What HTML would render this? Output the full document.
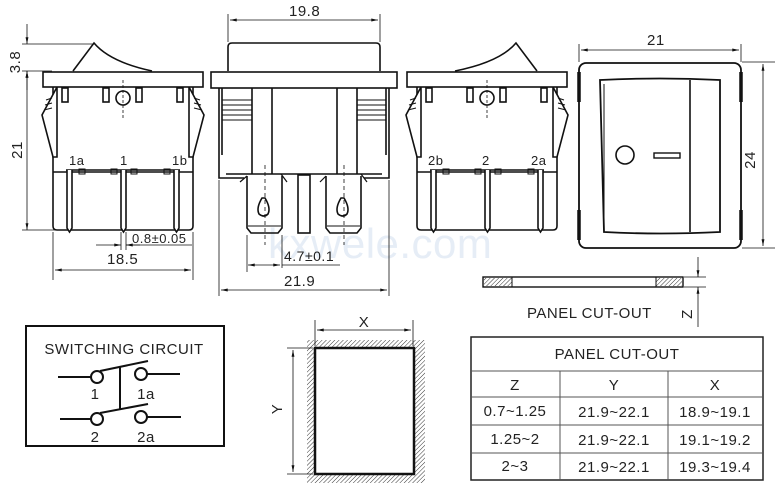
<!DOCTYPE html>
<html><head><meta charset="utf-8"><style>
html,body{margin:0;padding:0;background:#fff;width:784px;height:487px;overflow:hidden}
svg{display:block}
text{font-family:"Liberation Sans",sans-serif;fill:#222;letter-spacing:0.5px}
</style></head><body>
<svg width="784" height="487" viewBox="0 0 784 487" xmlns="http://www.w3.org/2000/svg">
<defs>
<marker id="a" viewBox="0 0 14 10" refX="14" refY="5" markerWidth="12" markerHeight="6" orient="auto-start-reverse"><path d="M0,2 L14,5 L0,8 z" fill="#111"/></marker>
<pattern id="h" width="3" height="3" patternUnits="userSpaceOnUse" patternTransform="rotate(45)"><line x1="0" y1="0" x2="0" y2="3" stroke="#333" stroke-width="1"/></pattern>
<g id="side" fill="none" stroke="#111" stroke-width="1.6">
<rect x="43" y="72" width="160" height="15" fill="#fff"/>
<path d="M53,87 V226 q0,4 4,4 H189 q4,0 4,-4 V87"/>
<path d="M57,87 L42,115 L53,157 L57,157 Z M189,87 L204,115 L193,157 L189,157 Z" fill="#fff"/>
<path d="M46,100 l6,-2 M45,105 l7,-2 M44,110 l8,-2 M200,100 l-6,-2 M201,105 l-7,-2 M202,110 l-8,-2" stroke-width="1"/>
<rect x="62" y="88" width="6" height="14"/><rect x="103" y="88" width="6" height="14"/><rect x="136" y="88" width="6" height="14"/><rect x="177" y="88" width="6" height="14"/>
<circle cx="123" cy="98" r="7"/>
<line x1="123" y1="80" x2="123" y2="118" stroke-dasharray="3,2" stroke-width="0.8"/>
<line x1="53" y1="172" x2="193" y2="172"/>
<line x1="66" y1="170" x2="180" y2="170"/>
<rect x="79" y="169" width="6" height="5" stroke-width="1"/><rect x="111" y="169" width="6" height="5" stroke-width="1"/><rect x="131" y="169" width="6" height="5" stroke-width="1"/><rect x="164" y="169" width="6" height="5" stroke-width="1"/>
<path d="M67,170 V228 L69.5,232 L72,228 V170 M121,170 V228 L123.5,232 L126,228 V170 M174,170 V228 L176.5,232 L179,228 V170" fill="#fff"/>
</g>
</defs>

<text x="268" y="258" font-size="42" style="fill:#e6edf6">kxwele.com</text>

<!-- LEFT VIEW -->
<use href="#side"/>
<path d="M73,71 L94,43 Q110,62 152,71" fill="none" stroke="#111" stroke-width="1.6"/>
<text x="69" y="165" font-size="13">1a</text><text x="120" y="165" font-size="13">1</text><text x="172" y="165" font-size="13">1b</text>
<g stroke="#111" stroke-width="0.8" fill="none">
<line x1="22" y1="44" x2="95" y2="44"/><line x1="22" y1="71" x2="52" y2="71"/><line x1="22" y1="230" x2="62" y2="230"/>
<line x1="27" y1="24" x2="27" y2="44" marker-end="url(#a)"/><line x1="27" y1="90" x2="27" y2="71" marker-end="url(#a)"/>
<line x1="27" y1="71" x2="27" y2="230" marker-start="url(#a)" marker-end="url(#a)"/>
<line x1="53" y1="232" x2="53" y2="280"/><line x1="193" y1="232" x2="193" y2="280"/>
<line x1="55" y1="270" x2="191" y2="270" marker-start="url(#a)" marker-end="url(#a)"/>
<line x1="121" y1="232" x2="121" y2="250"/><line x1="126" y1="232" x2="126" y2="250"/>
<line x1="96" y1="245" x2="121" y2="245" marker-end="url(#a)"/><line x1="140" y1="245" x2="126" y2="245" marker-end="url(#a)"/>
<line x1="126" y1="245" x2="192" y2="245"/>
</g>
<text x="132" y="243" font-size="13">0.8±0.05</text>
<text x="107" y="264" font-size="15">18.5</text>
<text x="20" y="62" font-size="15" transform="rotate(-90 20 62)" text-anchor="middle">3.8</text>
<text x="22" y="150" font-size="15" transform="rotate(-90 22 150)" text-anchor="middle">21</text>

<!-- MIDDLE VIEW -->
<g fill="none" stroke="#111" stroke-width="1.6">
<path d="M228,71 V47 q0,-4 4,-4 H376 q4,0 4,4 V71"/>
<rect x="211" y="72" width="186" height="16"/>
<path d="M219,88 V178 H226 M389,88 V178 H382"/>
<path d="M252,88 V174 M272,88 V174 M337,88 V174 M357,88 V174 M222,88 V155 M386,88 V155"/>
<path d="M222,100 H252 M222,105 H252 M222,110 H252 M222,115 H252 M222,120 H252 M357,100 H386 M357,105 H386 M357,110 H386 M357,115 H386 M357,120 H386" stroke-width="1"/>
<path d="M226,174 H382 M226,178 H244 M364,178 H382"/>
<path d="M247,176 V228 L251,233 H278 L282,228 V176 M326,176 V228 L330,233 H357 L361,228 V176"/>
<path d="M248,226 H281 M327,226 H360" stroke-width="1"/>
<rect x="298" y="175" width="12" height="58"/>
<path d="M262,198 q-6,10 -3,16 q5,4 9,0 q3,-6 -3,-16 z M341,198 q-6,10 -3,16 q5,4 9,0 q3,-6 -3,-16 z"/>
<path d="M240,182 l7,-6 M287,182 l-6,-8 M320,182 l6,-6 M367,182 l-6,-8" stroke-width="1.2"/>
</g>
<g stroke="#111" stroke-width="0.8" fill="none">
<line x1="265" y1="165" x2="265" y2="245" stroke-dasharray="4,3"/><line x1="344" y1="165" x2="344" y2="245" stroke-dasharray="4,3"/>
<line x1="228" y1="14" x2="228" y2="42"/><line x1="380" y1="14" x2="380" y2="42"/>
<line x1="230" y1="20" x2="378" y2="20" marker-start="url(#a)" marker-end="url(#a)"/>
<line x1="219" y1="180" x2="219" y2="296"/><line x1="389" y1="180" x2="389" y2="296"/>
<line x1="221" y1="290" x2="387" y2="290" marker-start="url(#a)" marker-end="url(#a)"/>
<line x1="247" y1="235" x2="247" y2="272"/><line x1="282" y1="235" x2="282" y2="268"/>
<line x1="248" y1="265" x2="280" y2="265" marker-start="url(#a)" marker-end="url(#a)"/>
<line x1="282" y1="265" x2="340" y2="265"/>
</g>
<text x="289" y="16" font-size="15">19.8</text>
<text x="284" y="261" font-size="14">4.7±0.1</text>
<text x="284" y="286" font-size="15">21.9</text>

<!-- RIGHT VIEW -->
<use href="#side" transform="translate(364,0)"/>
<path d="M455,71 Q500,62 516,43 L537,71" fill="none" stroke="#111" stroke-width="1.6"/>
<text x="428" y="165" font-size="13">2b</text><text x="482" y="165" font-size="13">2</text><text x="531" y="165" font-size="13">2a</text>

<!-- FRONT VIEW -->
<g fill="none" stroke="#111">
<rect x="579" y="63" width="162" height="185" rx="7" stroke-width="1.8"/>
<path d="M579,72 V102 M579,210 V240 M741,72 V102 M741,210 V240" stroke-width="3.5"/>
<path d="M600,80 Q660,77 720,80 V232 Q660,235 604,232 Z" stroke-width="1.8"/>
<path d="M604,84 V230" stroke-width="1"/>
<line x1="690" y1="80" x2="690" y2="232" stroke-width="1.6"/>
<circle cx="625" cy="155" r="9" stroke-width="1.6"/>
<rect x="654" y="153" width="26" height="5" stroke-width="1.4"/>
</g>
<g stroke="#111" stroke-width="0.8" fill="none">
<line x1="579" y1="44" x2="579" y2="62"/><line x1="741" y1="44" x2="741" y2="62"/>
<line x1="581" y1="50" x2="739" y2="50" marker-start="url(#a)" marker-end="url(#a)"/>
<line x1="742" y1="62" x2="775" y2="62"/><line x1="742" y1="248" x2="775" y2="248"/>
<line x1="763" y1="64" x2="763" y2="246" marker-start="url(#a)" marker-end="url(#a)"/>
</g>
<text x="647" y="45" font-size="15">21</text>
<text x="755" y="160" font-size="15" transform="rotate(-90 755 160)" text-anchor="middle">24</text>

<!-- PANEL STRIP -->
<rect x="483" y="277" width="200" height="10" fill="#fff" stroke="#111" stroke-width="1.4"/>
<rect x="484" y="278" width="28" height="8" fill="url(#h)"/>
<rect x="656" y="278" width="26" height="8" fill="url(#h)"/>
<line x1="512" y1="277" x2="512" y2="287" stroke="#111"/><line x1="656" y1="277" x2="656" y2="287" stroke="#111"/>
<g stroke="#111" stroke-width="0.8" fill="none">
<line x1="684" y1="277" x2="706" y2="277"/><line x1="684" y1="287" x2="706" y2="287"/>
<line x1="698" y1="257" x2="698" y2="277" marker-end="url(#a)"/>
<line x1="698" y1="327" x2="698" y2="287" marker-end="url(#a)"/>
</g>
<text x="527" y="318" font-size="15">PANEL CUT-OUT</text>
<text x="692" y="314" font-size="15" transform="rotate(-90 692 314)" text-anchor="middle">Z</text>

<!-- SWITCHING CIRCUIT -->
<rect x="26" y="326" width="198" height="120" fill="none" stroke="#111" stroke-width="2"/>
<text x="124" y="354" font-size="15" text-anchor="middle">SWITCHING CIRCUIT</text>
<g stroke="#111" stroke-width="2" fill="#fff">
<line x1="58" y1="377" x2="91" y2="377"/><line x1="147" y1="374" x2="180" y2="374"/>
<line x1="60" y1="419" x2="91" y2="419"/><line x1="147" y1="417" x2="181" y2="417"/>
<line x1="100" y1="371" x2="148" y2="361"/><line x1="100" y1="413" x2="148" y2="404"/>
<line x1="120" y1="366" x2="120" y2="410"/>
<circle cx="97" cy="377" r="6"/><circle cx="141" cy="374" r="6"/>
<circle cx="97" cy="419" r="6"/><circle cx="141" cy="417" r="6"/>
</g>
<text x="95" y="399" font-size="15" text-anchor="middle">1</text>
<text x="146" y="399" font-size="15" text-anchor="middle">1a</text>
<text x="95" y="442" font-size="15" text-anchor="middle">2</text>
<text x="146" y="442" font-size="15" text-anchor="middle">2a</text>

<!-- CUT-OUT HOLE -->
<rect x="307" y="340" width="118" height="143" fill="url(#h)"/>
<rect x="315" y="348" width="99" height="126" fill="#fff" stroke="#111" stroke-width="2.5"/>
<g stroke="#111" stroke-width="0.8" fill="none">
<line x1="315" y1="320" x2="315" y2="346"/><line x1="413" y1="320" x2="413" y2="346"/>
<line x1="317" y1="330" x2="411" y2="330" marker-start="url(#a)" marker-end="url(#a)"/>
<line x1="287" y1="348" x2="313" y2="348"/><line x1="287" y1="474" x2="313" y2="474"/>
<line x1="293" y1="350" x2="293" y2="472" marker-start="url(#a)" marker-end="url(#a)"/>
</g>
<text x="364" y="327" font-size="15" text-anchor="middle">X</text>
<text x="282" y="409" font-size="15" transform="rotate(-90 282 409)" text-anchor="middle">Y</text>

<!-- TABLE -->
<g stroke="#555" stroke-width="1" fill="none">
<rect x="471" y="337" width="292" height="143" stroke="#222" stroke-width="1.5"/>
<line x1="471" y1="371" x2="763" y2="371"/><line x1="471" y1="397" x2="763" y2="397"/>
<line x1="471" y1="425" x2="763" y2="425"/><line x1="471" y1="453" x2="763" y2="453"/>
<line x1="560" y1="371" x2="560" y2="480"/><line x1="668" y1="371" x2="668" y2="480"/>
</g>
<g font-size="15" text-anchor="middle">
<text x="617" y="359">PANEL CUT-OUT</text>
<text x="515" y="390">Z</text><text x="614" y="390">Y</text><text x="715" y="390">X</text>
<text x="515" y="416">0.7~1.25</text><text x="614" y="417">21.9~22.1</text><text x="715" y="417">18.9~19.1</text>
<text x="515" y="444">1.25~2</text><text x="614" y="445">21.9~22.1</text><text x="715" y="445">19.1~19.2</text>
<text x="515" y="471">2~3</text><text x="614" y="472">21.9~22.1</text><text x="715" y="472">19.3~19.4</text>
</g>
</svg>
</body></html>
